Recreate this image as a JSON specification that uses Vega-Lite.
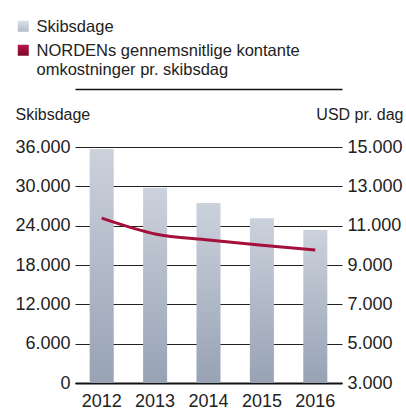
{
  "$schema": "https://vega.github.io/schema/vega-lite/v6.json",
  "width": 267,
  "height": 236,
  "autosize": {"type": "none"},
  "padding": {"left": 75, "top": 147, "right": 64, "bottom": 33},
  "background": "white",
  "config": {
    "view": {"stroke": null},
    "font": "Liberation Sans",
    "axis": {"labelFont": "Liberation Sans", "titleFont": "Liberation Sans", "labelColor": "#222", "titleColor": "#222", "titleFontWeight": "normal"}
  },
  "data": {
    "values": [
      {"year": "2012", "skibsdage": 35700, "omkostninger": 11380},
      {"year": "2013", "skibsdage": 29800, "omkostninger": 10580},
      {"year": "2014", "skibsdage": 27450, "omkostninger": 10270},
      {"year": "2015", "skibsdage": 25150, "omkostninger": 10000},
      {"year": "2016", "skibsdage": 23350, "omkostninger": 9760}
    ]
  },
  "layer": [
    {
      "mark": {
        "type": "bar",
        "fill": {"gradient": "linear", "x1": 0, "y1": 0, "x2": 0, "y2": 1, "stops": [{"offset": 0, "color": "#ccd2dc"}, {"offset": 1, "color": "#97a2b4"}]}
      },
      "encoding": {
        "x": {
          "field": "year", "type": "ordinal",
          "scale": {"paddingInner": 0.55, "paddingOuter": 0.275},
          "axis": {"orient": "bottom", "title": null, "labelAngle": 0, "ticks": false, "domain": true, "domainColor": "#111", "domainWidth": 2, "labelPadding": 9, "labelFontSize": 18, "grid": false}
        },
        "y": {
          "field": "skibsdage", "type": "quantitative",
          "scale": {"domain": [0, 36000], "nice": false},
          "axis": {
            "orient": "left", "values": [0, 6000, 12000, 18000, 24000, 30000, 36000],
            "labelExpr": "replace(format(datum.value, ','), ',', '.')",
            "grid": true, "gridColor": "#222", "gridWidth": 1, "ticks": false, "domain": false,
            "labelPadding": 5, "labelFontSize": 18,
            "title": "Skibsdage", "titleAngle": 0, "titleAlign": "left", "titleBaseline": "alphabetic",
            "titleX": -60, "titleY": -27.5, "titleFontSize": 16
          }
        }
      }
    },
    {
      "mark": {"type": "line", "strokeWidth": 3, "interpolate": "monotone"},
      "encoding": {
        "x": {
          "field": "year", "type": "ordinal",
          "axis": {"orient": "top", "offset": 58, "labels": false, "ticks": false, "domain": true, "domainColor": "#111", "domainWidth": 1.5, "grid": false, "title": null}
        },
        "y": {
          "field": "omkostninger", "type": "quantitative",
          "scale": {"domain": [3000, 15000], "nice": false},
          "axis": {
            "orient": "right", "values": [3000, 5000, 7000, 9000, 11000, 13000, 15000],
            "labelExpr": "replace(format(datum.value, ','), ',', '.')",
            "grid": false, "ticks": false, "domain": false,
            "labelPadding": 5, "labelFontSize": 18,
            "title": "USD pr. dag", "titleAngle": 0, "titleAlign": "right", "titleBaseline": "alphabetic",
            "titleX": 61, "titleY": -27.5, "titleFontSize": 16
          }
        },
        "color": {
          "datum": "NORDENs gennemsnitlige kontante omkostninger pr. skibsdag",
          "scale": {
            "domain": ["Skibsdage", "NORDENs gennemsnitlige kontante omkostninger pr. skibsdag"],
            "range": ["#c5cbd6", "#a50f3b"]
          },
          "legend": {
            "orient": "none", "legendX": -60, "legendY": -129, "title": null,
            "padding": 0, "symbolType": "square", "symbolSize": 121, "symbolStrokeWidth": 0,
            "labelFontSize": 16.5, "labelFont": "Liberation Sans", "labelColor": "#222", "labelLimit": 400,
            "labelOffset": 5, "rowPadding": 6,
            "labelExpr": "datum.label == 'Skibsdage' ? datum.label : ['NORDENs gennemsnitlige kontante', 'omkostninger pr. skibsdag']",
            "labelBaseline": "alphabetic",
            "encode": {
              "symbols": {"update": {
                "fill": {"signal": "datum.value == 'Skibsdage' ? {gradient: 'linear', x1: 0, y1: 0, x2: 0, y2: 1, stops: [{offset: 0, color: '#dde1e8'}, {offset: 1, color: '#b3bbc8'}]} : {gradient: 'linear', x1: 0, y1: 0, x2: 0, y2: 1, stops: [{offset: 0, color: '#b8174a'}, {offset: 1, color: '#7a0826'}]}"},
                "stroke": {"value": "transparent"}
              }},
              "labels": {"update": {"dy": {"value": 6}}}
            }
          }
        }
      }
    }
  ],
  "resolve": {"scale": {"y": "independent"}, "axis": {"x": "independent"}}
}
